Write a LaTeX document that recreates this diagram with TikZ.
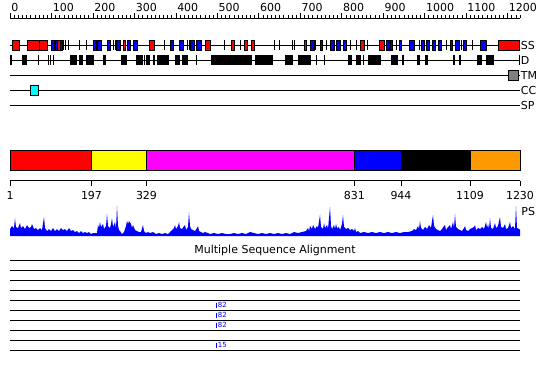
\documentclass[tikz,border=0pt]{standalone}
\usepackage{fontspec}
\setmainfont{DejaVu Sans}
\definecolor{domred}{RGB}{255,0,0}
\definecolor{domyellow}{RGB}{255,255,0}
\definecolor{dommagenta}{RGB}{255,0,255}
\definecolor{domblue}{RGB}{0,0,255}
\definecolor{domorange}{RGB}{255,153,0}
\definecolor{cccyan}{RGB}{0,255,255}
\definecolor{tmgray}{RGB}{128,128,128}

\begin{document}
\begin{tikzpicture}[x=1pt,y=-1pt,line width=0.8pt,
	helix/.style={draw=black,fill=domred,line width=0.6pt},
	strand/.style={draw=black,fill=domblue,line width=0.6pt},
	dom/.style={draw=black,line width=0.8pt},
	lbl/.style={font=\fontsize{11}{13}\selectfont,inner sep=0pt},
	hit/.style={font=\fontsize{7}{8}\selectfont,text=domblue,inner sep=0pt}]
	\useasboundingbox (0,0) rectangle (550,380);

	% ruler
	\draw (10,18) -- (520,18);
	\foreach \r in {0,10,...,1230} \draw[line width=0.6pt] ({10+\r*0.41463},18) -- ++(0,-3);
	\foreach \r in {0,100,...,1200} {
		\draw[line width=0.6pt] ({10+\r*0.41463},18) -- ++(0,-5);
		\node[lbl,anchor=west] (r\r) at ({11+\r*0.41463},7) {\r};
	}

	% SS track
	\draw (10,45) -- (520,45);
	\foreach \t in {63.3,65.7,68.3,79,86.7,113.3,115.3,164,187.3,189.3,224,240,274,279,292.3,294.3,315,326.7,350,356.7,367.3,396.7,419.3,446,461.7,472}
		\draw (\t,40) -- (\t,50);
	\foreach \a/\b in {12.3/19.3,27/39,39/47,57.5/60.5,123/125.7,149/154,205.7/210,231.7/234.3,244.7/247.3,251.7/254.7,304.3/306,360/364.3,379.3/384.3,498.7/519.3}
		\filldraw[helix] (\a,40) rectangle (\b,50);
	\foreach \a/\b in {51.7/54.3,55.5/57.5,60.5/62,93/96,97.7/101.7,107/110,116.7/120.7,127/130,133/137,170.7/173.3,179/183,190.7/194,196.7/201,310.7/314,320.3/322.3,330/334,336/340.7,343.3/346.7,386/389.3,390/392.7,399/401,409/414,421/424.5,426.5/429.5,432/435,438.5/441,450/452.5,455.5/459,463.7/466,480/486}
		\filldraw[strand] (\a,40) rectangle (\b,50);
	\node[lbl,anchor=west] (ss) at (520.5,45) {SS};

	% D track
	\draw (10,60) -- (520,60);
	\foreach \t in {38.3,48.3,50.7,53.3,144.3,196.7,316.7,324.3,363.3,519.5}
		\draw (\t,55) -- (\t,65);
	\foreach \a/\b in {10/12,21.7/27.3,70/76.7,79/83.3,86/94,103.3/105.7,120.7/126.7,136/143.3,145.5/149.5,152.7/155,157.3/169,175/180,182.3/187.7,211/252.3,255/273.3,285/293.3,297.7/310.7,347.7/351.7,356/360.7,367.7/381,391/398.3,401.7/404.3,416.7/420,425/428.3,453.3/455,459.3/461,476.7/481.7,485.7/493.7}
		\fill (\a,55) rectangle (\b,65);
	\node[lbl,anchor=west] (d) at (520.5,60) {D};

	% TM, CC, SP
	\draw (10,75) -- (520,75);
	\filldraw[draw=black,fill=tmgray,line width=0.6pt] (508,70) rectangle (518,80);
	\node[lbl,anchor=west] (tm) at (520.5,75) {TM};
	\draw (10,90) -- (520,90);
	\filldraw[draw=black,fill=cccyan,line width=0.6pt] (30,85) rectangle (38.5,95);
	\node[lbl,anchor=west] (cc) at (520.5,90) {CC};
	\draw (10,105) -- (520,105);
	\node[lbl,anchor=west] (sp) at (520.5,105) {SP};

	% domains
	\filldraw[dom,fill=domred] (10,150) rectangle (91.5,170);
	\filldraw[dom,fill=domyellow] (91.5,150) rectangle (146.5,170);
	\filldraw[dom,fill=dommagenta] (146.5,150) rectangle (354.3,170);
	\filldraw[dom,fill=domblue] (354.3,150) rectangle (401,170);
	\filldraw[dom,fill=black] (401,150) rectangle (470,170);
	\filldraw[dom,fill=domorange] (470,150) rectangle (520,170);

	\draw (10,180.5) -- (520,180.5);
	\foreach \x/\n in {10/1,91.5/197,146.5/329,354.3/831,401/944,470/1109,520/1230} {
		\draw (\x,180.5) -- (\x,185.5);
		\node[lbl] (b\n) at (\x,195) {\n};
	}

	% PS profile
	\fill[domblue] (10,236) -- plot coordinates {(10,229) (12,226) (14,228) (15,218) (16,227) (18,228) (20,223) (21,228) (23,226) (25,229) (27,225) (29,228) (31,227) (32,224) (34,229) (36,228) (38,230) (40,228) (42,230) (44,217) (45,228) (47,231) (49,229) (51,231) (53,228) (55,231) (57,229) (59,231) (61,228) (63,230) (65,229) (67,231) (69,228) (71,231) (73,230) (75,232) (77,231) (79,233) (81,231) (83,233) (85,232) (87,233) (89,232) (91,234) (93,233) (95,233) (97,233) (98,225) (99,228) (100,222) (101,227) (103,224) (104,229) (106,226) (107,214) (108,226) (110,228) (111,224) (112,218) (113,227) (115,222) (116,229) (117,206) (118,226) (119,230) (120,231) (122,234) (124,232) (126,226) (127,221) (128,224) (129,221) (131,224) (132,228) (133,225) (135,230) (137,231) (139,232) (141,232) (143,225) (144,231) (146,233) (148,232) (150,233) (153,232) (156,234) (159,233) (162,234) (165,233) (168,234) (170,232) (172,230) (174,228) (175,225) (176,229) (178,226) (179,222) (180,228) (182,229) (184,226) (185,225) (186,230) (188,227) (189,212) (190,226) (191,229) (193,230) (195,231) (197,228) (198,226) (199,231) (201,232) (203,233) (205,232) (208,233) (210,234) (214,233) (218,234) (222,233) (226,234) (230,234) (234,233) (238,234) (242,233) (246,234) (250,232) (254,233) (258,234) (262,233) (266,234) (270,233) (274,234) (278,233) (282,234) (286,233) (290,234) (294,232) (298,233) (302,232) (306,231) (308,228) (309,231) (310,226) (312,229) (313,225) (315,229) (317,226) (318,228) (320,215) (321,227) (323,229) (324,223) (325,228) (327,225) (328,229) (330,207) (331,226) (332,229) (334,225) (335,229) (336,224) (337,228) (339,227) (340,230) (342,224) (343,215) (344,227) (346,229) (348,228) (350,230) (352,229) (354,231) (355,228) (356,232) (358,231) (360,233) (364,232) (368,233) (372,232) (376,233) (380,232) (384,233) (388,232) (392,233) (396,232) (400,233) (404,232) (408,232) (412,231) (414,229) (416,230) (418,226) (419,229) (420,221) (421,228) (423,230) (425,227) (427,229) (429,225) (431,228) (432,221) (433,215) (434,226) (436,229) (438,230) (440,231) (442,229) (444,226) (445,225) (446,230) (448,227) (450,225) (451,229) (453,222) (454,228) (455,214) (456,227) (458,229) (460,230) (462,231) (464,228) (465,226) (466,230) (468,231) (470,229) (472,228) (474,227) (475,225) (476,230) (478,228) (480,229) (482,227) (484,229) (486,222) (487,228) (488,224) (489,229) (490,218) (491,228) (493,229) (495,223) (496,228) (498,226) (500,217) (501,227) (503,228) (505,224) (506,229) (508,228) (510,222) (511,228) (513,226) (515,229) (516,206) (517,228) (519,229) (520,230)} -- (520,236) -- cycle;
	\node[lbl,anchor=west] (ps) at (521,211) {PS};

	% alignment
	\node[lbl] (msa) at (275,250.5) {Multiple Sequence Alignment};
	\foreach \k in {0,...,9} \draw (10,{260.5+10*\k}) -- (520,{260.5+10*\k});
	\foreach \yy/\n in {300.5/82,310.5/82,320.5/82,340.5/15} {
		\draw[domblue,line width=0.6pt] (216,{\yy+2}) -- (216,{\yy+7.5});
		\node[hit,anchor=west] (h\n) at (217.5,{\yy+4.5}) {\n};
	}
\end{tikzpicture}
\end{document}
